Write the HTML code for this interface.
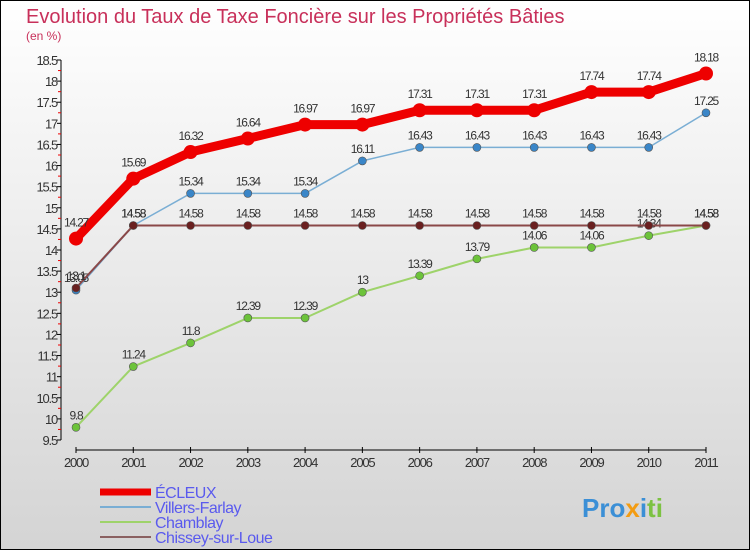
<!DOCTYPE html>
<html><head><meta charset="utf-8"><style>
body{margin:0;width:750px;height:550px;overflow:hidden}
svg{display:block;font-family:"Liberation Sans",sans-serif}
</style></head><body>
<svg width="750" height="550" xmlns="http://www.w3.org/2000/svg">
<defs><linearGradient id="bg" x1="0" y1="0" x2="0" y2="1"><stop offset="0" stop-color="#ffffff"/><stop offset="1" stop-color="#d4d4d4"/></linearGradient></defs>
<rect x="0.5" y="0.5" width="749" height="549" fill="url(#bg)" stroke="#000"/>
<text x="26" y="23" font-size="20" fill="#c8305a">Evolution du Taux de Taxe Foncière sur les Propriétés Bâties</text>
<text x="26" y="40" font-size="12" fill="#c8305a">(en %)</text>
<g id="axes"></g><g id="series"></g><g id="legend"></g>
<text x="582" y="517" font-size="26" font-weight="bold"><tspan fill="#3b8fd6">Pro</tspan><tspan fill="#f39c12">x</tspan><tspan fill="#3b8fd6">i</tspan><tspan fill="#7cc242">ti</tspan></text>
</svg>
<script>
const years=[2000,2001,2002,2003,2004,2005,2006,2007,2008,2009,2010,2011];
const ecleux=[14.27,15.69,16.32,16.64,16.97,16.97,17.31,17.31,17.31,17.74,17.74,18.18];
const villers=[13.05,14.58,15.34,15.34,15.34,16.11,16.43,16.43,16.43,16.43,16.43,17.25];
const chamblay=[9.8,11.24,11.8,12.39,12.39,13,13.39,13.79,14.06,14.06,14.34,14.58];
const chissey=[13.1,14.58,14.58,14.58,14.58,14.58,14.58,14.58,14.58,14.58,14.58,14.58];
const yTicks=[9.5,10,10.5,11,11.5,12,12.5,13,13.5,14,14.5,15,15.5,16,16.5,17,17.5,18,18.5];
const NS="http://www.w3.org/2000/svg";
const X=i=>76+i*(630/11), Y=v=>60+(18.5-v)*(380/9);
function mk(t,a,p){const e=document.createElementNS(NS,t);for(const k in a)e.setAttribute(k,a[k]);p.appendChild(e);return e;}
const ax=document.getElementById('axes');
let e=mk('line',{x1:61,y1:60,x2:61,y2:440,stroke:'#000'},ax);


e=mk('line',{x1:76,y1:450,x2:706,y2:450,stroke:'#000'},ax);


yTicks.forEach((v,i)=>{const y=Y(v);
 mk('line',{x1:57,y1:y,x2:61,y2:y,stroke:'#000'},ax);
 if(i<yTicks.length-1){const ym=Y(v+0.25);mk('line',{x1:58,y1:ym,x2:61,y2:ym,stroke:'#e00'},ax);}
 const t=mk('text',{x:57,y:y+5,'font-size':13,fill:'#333','text-anchor':'end','letter-spacing':'-1.2'},ax);t.textContent=v;
 
 });
years.forEach((yr,i)=>{mk('line',{x1:X(i),y1:447,x2:X(i),y2:453,stroke:'#000'},ax);
 const t=mk('text',{x:X(i),y:467,'font-size':13,fill:'#333','text-anchor':'middle','letter-spacing':'-1.2'},ax);t.textContent=yr;
 
 });
const sg=document.getElementById('series');
const series=[[chamblay,'#9ed36a','#6cc33a',2,4,'chamblay'],[villers,'#7aaed4','#3a86c8',1.5,4,'villers-farlay'],[chissey,'#8a4848','#6a2020',2,4,'chissey-sur-loue'],[ecleux,'#ee0000','#ee0000',9,7,'ecleux']];
series.forEach(([d,lc,pc,w,r,n])=>{
 const g=mk('g',{},sg);
 mk('polyline',{points:d.map((v,i)=>X(i)+','+Y(v)).join(' '),fill:'none',stroke:lc,'stroke-width':w,'stroke-linejoin':'round'},g);
 d.forEach((v,i)=>{const c=mk('circle',{cx:X(i),cy:Y(v),r:r,fill:pc,stroke:'#555','stroke-width':n==='ecleux'?0:0.6},g);
  
  
  const t=mk('text',{x:X(i),y:Y(v)-(n==='ecleux'?12:8),'font-size':12,fill:'#333','text-anchor':'middle','letter-spacing':'-1.2'},g);t.textContent=v;
  
  });
});
const lg=document.getElementById('legend');
const items=[['ÉCLEUX','#ee0000',7],['Villers-Farlay','#7aaed4',2],['Chamblay','#9ed36a',2],['Chissey-sur-Loue','#8a6060',2]];
items.forEach(([n,c,w],i)=>{const y=492+i*15;
 const g=mk('g',{},lg);
 mk('line',{x1:100,y1:y,x2:151,y2:y,stroke:c,'stroke-width':w},g);
 const t=mk('text',{x:155,y:y+6,'font-size':16,fill:'#5a5aee','letter-spacing':'-0.5'},g);t.textContent=n;});
</script>
</body></html>
